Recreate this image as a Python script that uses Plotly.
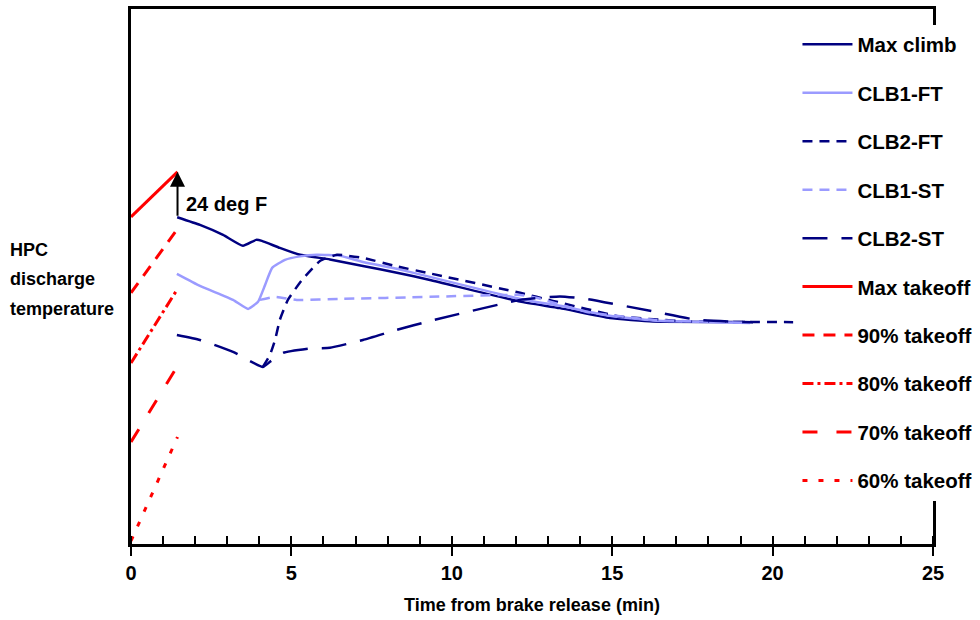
import plotly.graph_objects as go

# ---------------- data (time in min, temperature in relative deg F) ----------------
takeoff_names = ["Max takeoff", "90% takeoff", "80% takeoff", "70% takeoff", "60% takeoff"]
takeoff_t = [0.0, 1.45]
takeoff_temp = {
    "Max takeoff": [170.6, 194.1],
    "90% takeoff": [131.0, 164.3],
    "80% takeoff": [94.4, 133.0],
    "70% takeoff": [53.2, 92.9],
    "60% takeoff": [1.6, 55.8],
}

maxclimb_t = [1.44, 2.15, 2.87, 3.49, 3.90, 4.08, 4.64, 5.27, 6.20, 7.23, 8.29, 9.32, 12.13, 13.37, 14.93, 16.27, 19.14]
maxclimb_v = [170.4, 166.4, 161.2, 155.5, 158.6, 158.1, 154.4, 150.8, 148.4, 145.0, 141.5, 137.7, 126.4, 123.0, 117.8, 116.0, 115.8]

clb1ft_t = [1.43, 2.15, 3.18, 3.65, 3.96, 4.18, 4.40, 4.80, 5.27, 5.80, 6.51, 7.23, 8.29, 9.32, 12.13, 13.37, 14.93, 16.27, 19.30]
clb1ft_v = [140.9, 134.6, 127.3, 122.6, 126.3, 135.1, 144.0, 148.2, 150.0, 150.8, 150.3, 147.1, 143.5, 139.3, 127.8, 124.2, 119.0, 116.6, 115.3]

clb2ft_t = [4.11, 4.33, 4.49, 4.64, 4.89, 5.33, 5.89, 6.42, 7.23, 8.29, 9.32, 12.13, 13.15, 15.24, 17.33, 20.64]
clb2ft_v = [92.3, 98.6, 106.4, 116.9, 127.3, 137.7, 147.6, 150.8, 149.2, 144.8, 141.1, 131.0, 126.8, 118.7, 116.1, 115.7]

clb1st_t = [4.02, 4.49, 5.17, 6.51, 9.32, 12.13, 12.66, 14.21, 16.27, 19.20]
clb1st_v = [127.3, 128.9, 127.3, 127.8, 128.9, 129.9, 128.3, 121.0, 116.9, 115.3]

clb2st_t = [1.43, 2.15, 3.18, 4.11, 4.33, 4.74, 5.58, 6.20, 7.23, 8.29, 9.32, 12.13, 13.37, 14.21, 16.27, 17.64, 19.39]
clb2st_v = [109.0, 106.4, 100.2, 92.3, 95.0, 99.7, 102.0, 102.3, 106.4, 111.7, 116.3, 127.3, 129.1, 127.8, 121.3, 116.9, 115.6]

step_t = 1.45
step_from, step_to = 170.4, 194.1
step_label = "24 deg F"

x_ticks = [0, 5, 10, 15, 20, 25]
y_label_lines = ["HPC", "discharge", "temperature"]
x_title = "Time from brake release (min)"

# ---------------- styles ----------------
NAVY = "#000080"
LIGHT = "#9b9bff"
RED = "#ff0000"
FONT = "Liberation Sans, Arial, sans-serif"

climb_series = [
    ("Max climb", maxclimb_t, maxclimb_v, NAVY, "solid"),
    ("CLB1-FT", clb1ft_t, clb1ft_v, LIGHT, "solid"),
    ("CLB2-FT", clb2ft_t, clb2ft_v, NAVY, "10px,7px"),
    ("CLB1-ST", clb1st_t, clb1st_v, LIGHT, "10px,7px"),
    ("CLB2-ST", clb2st_t, clb2st_v, NAVY, "25px,14px"),
]
takeoff_dash = {
    "Max takeoff": "solid",
    "90% takeoff": "12px,9px",
    "80% takeoff": "11px,4px,3px,4px",
    "70% takeoff": "15px,19px",
    "60% takeoff": "5px,11px",
}

fig = go.Figure()
for name, t, v, col, dash in climb_series:
    fig.add_trace(go.Scatter(x=t, y=v, mode="lines", name=name, legendgroup=name,
                             line=dict(color=col, width=2.5, dash=dash, shape="spline", smoothing=0.4)))
for name in takeoff_names:
    fig.add_trace(go.Scatter(x=takeoff_t, y=takeoff_temp[name], mode="lines", name=name, legendgroup=name,
                             line=dict(color=RED, width=3, dash=takeoff_dash[name])))

# arrow for the throttle step
fig.add_annotation(x=step_t, y=step_to, ax=step_t, ay=step_from, xref="x", yref="y",
                   axref="x", ayref="y", text="", showarrow=True, arrowhead=2,
                   arrowsize=1.5, arrowwidth=2, arrowcolor="black")
fig.add_annotation(x=step_t + 0.2, y=step_from + 7, xref="x", yref="y",
                   text=step_label, showarrow=False, xanchor="left", yanchor="middle",
                   font=dict(family=FONT, size=20, color="black", weight="bold"))

for i, line in enumerate(y_label_lines):
    fig.add_annotation(x=-0.153, y=0.55 - i * 0.0555, xref="paper", yref="paper", text=line,
                       showarrow=False, xanchor="left", yanchor="middle",
                       font=dict(family=FONT, size=18, color="black", weight="bold"))

fig.update_layout(
    width=980, height=620,
    margin=dict(l=131, r=47, t=9, b=76, autoexpand=False),
    paper_bgcolor="white", plot_bgcolor="white",
    font=dict(family=FONT, size=18, color="black", weight="bold"),
    legend=dict(x=0.831, y=0.971, xanchor="left", yanchor="top", bgcolor="white",
                tracegroupgap=18.8, itemwidth=50, traceorder="grouped",
                font=dict(family=FONT, size=20.5, color="black", weight="bold")),
    showlegend=True,
)
fig.update_xaxes(range=[0, 25], tickvals=x_ticks, ticktext=[str(v) for v in x_ticks],
                 showline=True, linecolor="black", linewidth=3, mirror=True,
                 ticks="outside", ticklen=9, tickwidth=1.5, tickcolor="black",
                 minor=dict(dtick=1, ticks="inside", ticklen=8, tickwidth=1.5, tickcolor="black"),
                 showgrid=False, zeroline=False,
                 title=dict(text=x_title, standoff=16,
                            font=dict(family=FONT, size=18, color="black", weight="bold")),
                 tickfont=dict(family=FONT, size=20, color="black", weight="bold"))
fig.update_yaxes(range=[0, 279], showline=True, linecolor="black", linewidth=3, mirror=True,
                 showticklabels=False, ticks="", showgrid=False, zeroline=False)

fig.write_html("out.html")
